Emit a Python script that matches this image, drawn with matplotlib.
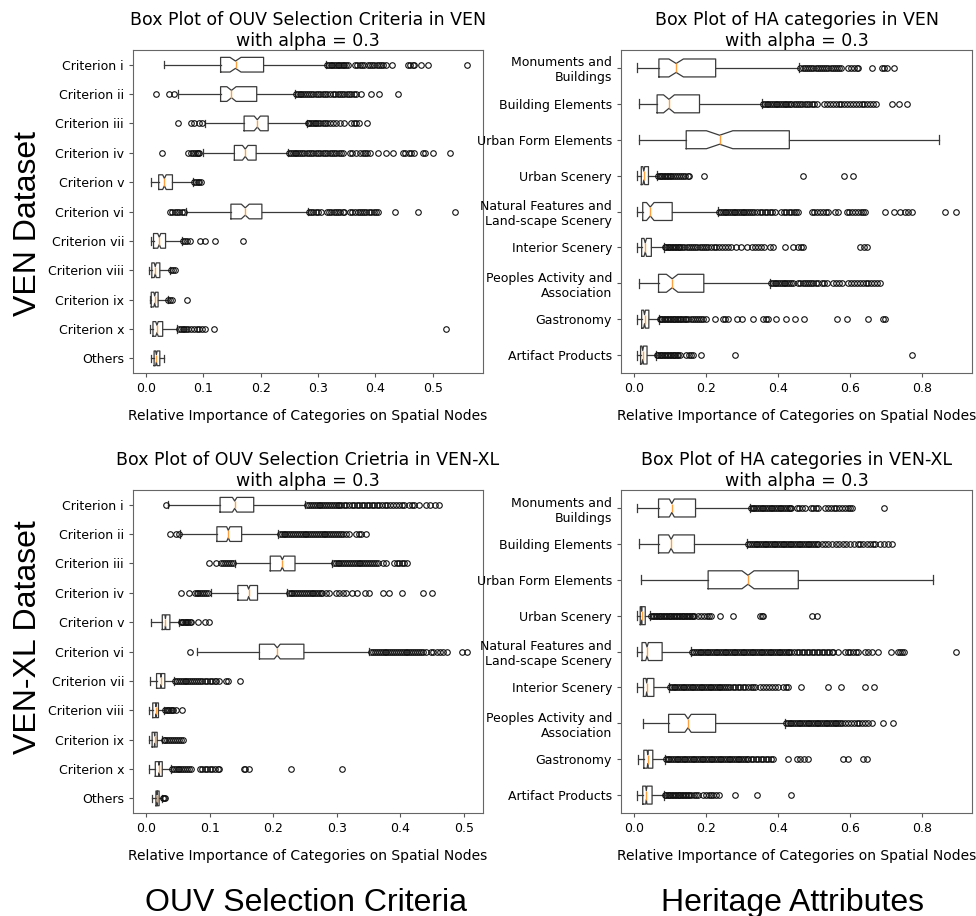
import numpy as np
import matplotlib.pyplot as plt

ouv_labels = ["Criterion i", "Criterion ii", "Criterion iii", "Criterion iv",
              "Criterion v", "Criterion vi", "Criterion vii", "Criterion viii",
              "Criterion ix", "Criterion x", "Others"]
ha_labels = ["Monuments and\nBuildings", "Building Elements", "Urban Form Elements",
             "Urban Scenery", "Natural Features and\nLand-scape Scenery",
             "Interior Scenery", "Peoples Activity and\nAssociation",
             "Gastronomy", "Artifact Products"]

# number of spatial nodes (used for the notch width)
n_ven = 151
n_venxl = 550

# ---- VEN, OUV selection criteria ----
ven_ouv_whislo = [0.032, 0.056, 0.103, 0.099, 0.009, 0.0695, 0.008, 0.005, 0.006, 0.006, 0.009]
ven_ouv_q1 = [0.130, 0.130, 0.171, 0.154, 0.022, 0.148, 0.013, 0.010, 0.009, 0.012, 0.014]
ven_ouv_med = [0.156, 0.149, 0.194, 0.173, 0.032, 0.173, 0.023, 0.016, 0.015, 0.019, 0.018]
ven_ouv_q3 = [0.205, 0.193, 0.213, 0.192, 0.046, 0.202, 0.034, 0.024, 0.021, 0.029, 0.024]
ven_ouv_whishi = [0.313, 0.260, 0.280, 0.248, 0.081, 0.282, 0.063, 0.042, 0.038, 0.054, 0.031]
ven_ouv_fliers = [
    [0.316, 0.319, 0.322, 0.325, 0.328, 0.331, 0.334, 0.337, 0.340, 0.343, 0.346, 0.349, 0.352,
     0.364, 0.368, 0.373, 0.377, 0.381, 0.387, 0.391, 0.394, 0.398, 0.402, 0.406, 0.410, 0.413,
     0.418, 0.429, 0.457, 0.461, 0.465, 0.468, 0.480, 0.492, 0.560],
    [0.017, 0.040, 0.048, 0.262, 0.265, 0.268, 0.271, 0.274, 0.277, 0.280, 0.284, 0.288, 0.292,
     0.296, 0.300, 0.304, 0.308, 0.312, 0.316, 0.320, 0.326, 0.330, 0.334, 0.338, 0.342, 0.346,
     0.350, 0.354, 0.358, 0.362, 0.366, 0.375, 0.393, 0.407, 0.439],
    [0.056, 0.078, 0.084, 0.093, 0.097, 0.282, 0.285, 0.288, 0.291, 0.294, 0.297, 0.300, 0.304,
     0.308, 0.312, 0.316, 0.320, 0.326, 0.332, 0.338, 0.346, 0.358, 0.362, 0.366, 0.372, 0.385],
    [0.027, 0.074, 0.078, 0.082, 0.085, 0.088, 0.091, 0.093, 0.250, 0.253, 0.256, 0.259, 0.262,
     0.265, 0.268, 0.272, 0.276, 0.280, 0.284, 0.288, 0.292, 0.296, 0.300, 0.304, 0.308, 0.312,
     0.316, 0.320, 0.324, 0.328, 0.332, 0.336, 0.340, 0.344, 0.355, 0.360, 0.367, 0.373, 0.378,
     0.382, 0.386, 0.390, 0.404, 0.419, 0.430, 0.448, 0.452, 0.458, 0.462, 0.468, 0.483, 0.487,
     0.501, 0.530],
    [0.084, 0.087, 0.090, 0.093, 0.096],
    [0.042, 0.046, 0.050, 0.054, 0.058, 0.062, 0.066, 0.284, 0.288, 0.292, 0.296, 0.300, 0.305,
     0.315, 0.319, 0.323, 0.327, 0.331, 0.335, 0.339, 0.343, 0.346, 0.355, 0.360, 0.365, 0.370,
     0.373, 0.376, 0.380, 0.384, 0.388, 0.392, 0.397, 0.401, 0.404, 0.435, 0.475, 0.539],
    [0.065, 0.068, 0.071, 0.077, 0.094, 0.103, 0.120, 0.169],
    [0.044, 0.047, 0.050],
    [0.039, 0.042, 0.045, 0.072],
    [0.057, 0.061, 0.064, 0.067, 0.070, 0.074, 0.079, 0.083, 0.088, 0.093, 0.098, 0.103, 0.119, 0.524],
    [],
]

# ---- VEN, HA categories ----
ven_ha_whislo = [0.007, 0.012, 0.014, 0.007, 0.007, 0.007, 0.014, 0.007, 0.007]
ven_ha_q1 = [0.068, 0.063, 0.144, 0.019, 0.023, 0.020, 0.067, 0.020, 0.017]
ven_ha_med = [0.116, 0.096, 0.237, 0.026, 0.044, 0.030, 0.105, 0.028, 0.023]
ven_ha_q3 = [0.226, 0.181, 0.431, 0.039, 0.105, 0.047, 0.193, 0.040, 0.035]
ven_ha_whishi = [0.459, 0.355, 0.847, 0.063, 0.233, 0.081, 0.377, 0.067, 0.059]
ven_ha_fliers = [
    [0.462, 0.468, 0.474, 0.480, 0.486, 0.492, 0.498, 0.504, 0.510, 0.516, 0.522, 0.528, 0.534,
     0.540, 0.546, 0.552, 0.558, 0.564, 0.570, 0.576, 0.595, 0.603, 0.610, 0.618, 0.623, 0.660,
     0.688, 0.695, 0.702, 0.721],
    [0.358, 0.363, 0.368, 0.373, 0.378, 0.383, 0.388, 0.393, 0.398, 0.403, 0.408, 0.413, 0.418,
     0.423, 0.428, 0.433, 0.437, 0.443, 0.449, 0.455, 0.461, 0.467, 0.474, 0.479, 0.486, 0.493,
     0.500, 0.507, 0.528, 0.536, 0.544, 0.552, 0.560, 0.568, 0.576, 0.584, 0.592, 0.600, 0.608,
     0.616, 0.624, 0.632, 0.640, 0.648, 0.656, 0.664, 0.672, 0.716, 0.737, 0.758],
    [],
    [0.066, 0.070, 0.074, 0.078, 0.082, 0.086, 0.090, 0.094, 0.098, 0.102, 0.106, 0.112, 0.118,
     0.124, 0.130, 0.136, 0.142, 0.148, 0.153, 0.193, 0.468, 0.583, 0.609],
    [0.236, 0.241, 0.246, 0.251, 0.256, 0.261, 0.266, 0.271, 0.276, 0.281, 0.286, 0.291, 0.296,
     0.301, 0.306, 0.311, 0.316, 0.321, 0.327, 0.334, 0.341, 0.348, 0.355, 0.362, 0.369, 0.376,
     0.383, 0.391, 0.409, 0.416, 0.423, 0.430, 0.437, 0.444, 0.450, 0.456, 0.493, 0.500, 0.508,
     0.516, 0.524, 0.532, 0.540, 0.558, 0.567, 0.591, 0.598, 0.606, 0.614, 0.622, 0.630, 0.637,
     0.642, 0.698, 0.721, 0.740, 0.752, 0.762, 0.772, 0.863, 0.895],
    [0.084, 0.088, 0.092, 0.096, 0.100, 0.104, 0.108, 0.112, 0.116, 0.120, 0.124, 0.128, 0.133,
     0.139, 0.145, 0.151, 0.157, 0.163, 0.169, 0.175, 0.181, 0.187, 0.193, 0.200, 0.205, 0.212,
     0.220, 0.228, 0.236, 0.244, 0.252, 0.260, 0.270, 0.283, 0.297, 0.312, 0.326, 0.335, 0.344,
     0.352, 0.360, 0.377, 0.386, 0.419, 0.442, 0.456, 0.463, 0.470, 0.628, 0.638, 0.647],
    [0.380, 0.385, 0.390, 0.395, 0.400, 0.405, 0.410, 0.415, 0.420, 0.425, 0.430, 0.436, 0.442,
     0.456, 0.462, 0.468, 0.474, 0.480, 0.486, 0.492, 0.498, 0.505, 0.512, 0.521, 0.528, 0.535,
     0.553, 0.561, 0.569, 0.577, 0.595, 0.603, 0.611, 0.619, 0.627, 0.635, 0.643, 0.651, 0.659,
     0.667, 0.675, 0.684],
    [0.070, 0.074, 0.078, 0.082, 0.086, 0.090, 0.094, 0.098, 0.102, 0.106, 0.110, 0.114, 0.118,
     0.122, 0.126, 0.130, 0.135, 0.140, 0.144, 0.150, 0.156, 0.162, 0.168, 0.174, 0.180, 0.186,
     0.192, 0.200, 0.225, 0.247, 0.253, 0.260, 0.284, 0.300, 0.330, 0.358, 0.365, 0.372, 0.395,
     0.423, 0.447, 0.472, 0.563, 0.591, 0.651, 0.693, 0.698],
    [0.062, 0.066, 0.070, 0.074, 0.078, 0.082, 0.086, 0.090, 0.094, 0.098, 0.102, 0.106, 0.110,
     0.114, 0.118, 0.122, 0.126, 0.144, 0.152, 0.158, 0.163, 0.184, 0.281, 0.772],
]

# ---- VEN-XL, OUV selection criteria ----
venxl_ouv_whislo = [0.034, 0.053, 0.139, 0.101, 0.008, 0.079, 0.006, 0.004, 0.004, 0.004, 0.009]
venxl_ouv_q1 = [0.116, 0.111, 0.195, 0.144, 0.025, 0.178, 0.016, 0.010, 0.009, 0.014, 0.015]
venxl_ouv_med = [0.139, 0.129, 0.214, 0.161, 0.030, 0.206, 0.023, 0.015, 0.013, 0.020, 0.017]
venxl_ouv_q3 = [0.169, 0.150, 0.234, 0.175, 0.037, 0.248, 0.029, 0.019, 0.017, 0.025, 0.020]
venxl_ouv_whishi = [0.250, 0.207, 0.292, 0.221, 0.052, 0.351, 0.043, 0.028, 0.025, 0.038, 0.024]
venxl_ouv_fliers = [
    [0.031, 0.253, 0.256, 0.259, 0.262, 0.265, 0.268, 0.271, 0.274, 0.277, 0.280, 0.283, 0.286,
     0.289, 0.292, 0.295, 0.298, 0.301, 0.304, 0.307, 0.311, 0.315, 0.319, 0.323, 0.327, 0.331,
     0.335, 0.339, 0.343, 0.347, 0.351, 0.355, 0.359, 0.363, 0.367, 0.371, 0.375, 0.379, 0.383,
     0.388, 0.393, 0.398, 0.402, 0.406, 0.414, 0.418, 0.422, 0.429, 0.440, 0.446, 0.454, 0.461],
    [0.037, 0.047, 0.051, 0.210, 0.213, 0.216, 0.219, 0.222, 0.225, 0.228, 0.231, 0.234, 0.237,
     0.240, 0.243, 0.246, 0.249, 0.252, 0.255, 0.258, 0.261, 0.264, 0.267, 0.270, 0.273, 0.276,
     0.279, 0.282, 0.285, 0.288, 0.291, 0.294, 0.297, 0.300, 0.303, 0.306, 0.309, 0.314, 0.319,
     0.330, 0.334, 0.338, 0.346],
    [0.098, 0.109, 0.118, 0.121, 0.124, 0.127, 0.130, 0.133, 0.136, 0.295, 0.298, 0.301, 0.304,
     0.307, 0.310, 0.313, 0.316, 0.319, 0.322, 0.325, 0.328, 0.331, 0.334, 0.337, 0.340, 0.343,
     0.346, 0.349, 0.352, 0.355, 0.358, 0.361, 0.364, 0.372, 0.377, 0.390, 0.394, 0.398, 0.402,
     0.406, 0.411],
    [0.054, 0.067, 0.076, 0.079, 0.082, 0.085, 0.088, 0.091, 0.094, 0.097, 0.224, 0.227, 0.230,
     0.233, 0.236, 0.239, 0.242, 0.245, 0.248, 0.251, 0.254, 0.257, 0.260, 0.263, 0.266, 0.269,
     0.272, 0.275, 0.277, 0.283, 0.288, 0.298, 0.303, 0.309, 0.314, 0.324, 0.332, 0.344, 0.351,
     0.373, 0.382, 0.402, 0.435, 0.450],
    [0.054, 0.056, 0.058, 0.060, 0.062, 0.064, 0.066, 0.068, 0.071, 0.081, 0.092, 0.098],
    [0.068, 0.354, 0.357, 0.360, 0.363, 0.366, 0.369, 0.372, 0.375, 0.378, 0.381, 0.384, 0.387,
     0.390, 0.393, 0.396, 0.399, 0.402, 0.405, 0.408, 0.411, 0.414, 0.417, 0.420, 0.423, 0.426,
     0.429, 0.432, 0.436, 0.440, 0.448, 0.452, 0.457, 0.462, 0.467, 0.474, 0.497, 0.505],
    [0.045, 0.048, 0.051, 0.054, 0.057, 0.060, 0.063, 0.066, 0.069, 0.072, 0.075, 0.078, 0.081,
     0.084, 0.088, 0.092, 0.096, 0.100, 0.104, 0.108, 0.110, 0.114, 0.126, 0.128, 0.147],
    [0.030, 0.032, 0.034, 0.036, 0.038, 0.040, 0.042, 0.047, 0.056],
    [0.027, 0.030, 0.033, 0.036, 0.039, 0.042, 0.045, 0.048, 0.051, 0.054, 0.058],
    [0.040, 0.043, 0.046, 0.049, 0.052, 0.055, 0.058, 0.061, 0.064, 0.067, 0.071, 0.084, 0.088,
     0.092, 0.096, 0.100, 0.104, 0.108, 0.112, 0.115, 0.153, 0.156, 0.161, 0.228, 0.308],
    [0.026, 0.028, 0.030],
]

# ---- VEN-XL, HA categories ----
venxl_ha_whislo = [0.007, 0.014, 0.017, 0.007, 0.007, 0.007, 0.023, 0.011, 0.007]
venxl_ha_q1 = [0.067, 0.067, 0.205, 0.016, 0.021, 0.025, 0.095, 0.026, 0.023]
venxl_ha_med = [0.104, 0.102, 0.316, 0.020, 0.035, 0.034, 0.149, 0.037, 0.033]
venxl_ha_q3 = [0.170, 0.167, 0.456, 0.030, 0.077, 0.054, 0.226, 0.051, 0.049]
venxl_ha_whishi = [0.321, 0.314, 0.830, 0.044, 0.158, 0.096, 0.419, 0.084, 0.081]
venxl_ha_fliers = [
    [0.324, 0.329, 0.334, 0.339, 0.344, 0.349, 0.354, 0.359, 0.364, 0.369, 0.374, 0.379, 0.384,
     0.389, 0.394, 0.399, 0.404, 0.409, 0.414, 0.419, 0.424, 0.429, 0.434, 0.437, 0.451, 0.459,
     0.467, 0.475, 0.490, 0.498, 0.506, 0.512, 0.530, 0.538, 0.546, 0.554, 0.562, 0.570, 0.578,
     0.586, 0.594, 0.600, 0.605, 0.695],
    [0.317, 0.322, 0.327, 0.332, 0.337, 0.342, 0.347, 0.352, 0.357, 0.362, 0.367, 0.372, 0.377,
     0.382, 0.387, 0.392, 0.397, 0.402, 0.407, 0.412, 0.417, 0.422, 0.427, 0.432, 0.437, 0.442,
     0.447, 0.452, 0.457, 0.462, 0.467, 0.472, 0.477, 0.482, 0.487, 0.492, 0.497, 0.502, 0.507,
     0.512, 0.521, 0.530, 0.540, 0.550, 0.560, 0.570, 0.580, 0.590, 0.600, 0.610, 0.623, 0.628,
     0.637, 0.646, 0.655, 0.664, 0.670, 0.684, 0.694, 0.705, 0.716],
    [],
    [0.047, 0.051, 0.055, 0.059, 0.063, 0.067, 0.071, 0.075, 0.079, 0.083, 0.087, 0.091, 0.095,
     0.099, 0.103, 0.107, 0.111, 0.115, 0.119, 0.123, 0.127, 0.131, 0.135, 0.139, 0.143, 0.147,
     0.151, 0.155, 0.159, 0.163, 0.167, 0.177, 0.185, 0.193, 0.201, 0.208, 0.214, 0.239, 0.273,
     0.349, 0.354, 0.358, 0.493, 0.507],
    [0.161, 0.166, 0.171, 0.176, 0.181, 0.186, 0.191, 0.196, 0.201, 0.206, 0.211, 0.216, 0.221,
     0.226, 0.231, 0.236, 0.241, 0.246, 0.251, 0.256, 0.261, 0.266, 0.271, 0.276, 0.281, 0.286,
     0.291, 0.296, 0.301, 0.306, 0.311, 0.316, 0.321, 0.326, 0.331, 0.336, 0.341, 0.346, 0.351,
     0.356, 0.361, 0.366, 0.371, 0.376, 0.381, 0.386, 0.391, 0.396, 0.401, 0.406, 0.411, 0.416,
     0.421, 0.426, 0.431, 0.437, 0.444, 0.451, 0.458, 0.465, 0.472, 0.479, 0.486, 0.493, 0.500,
     0.507, 0.514, 0.521, 0.528, 0.535, 0.542, 0.549, 0.553, 0.567, 0.586, 0.593, 0.600, 0.608,
     0.616, 0.623, 0.642, 0.651, 0.660, 0.679, 0.714, 0.733, 0.739, 0.744, 0.749, 0.895],
    [0.099, 0.104, 0.109, 0.114, 0.119, 0.124, 0.129, 0.134, 0.139, 0.144, 0.149, 0.154, 0.159,
     0.164, 0.169, 0.174, 0.179, 0.184, 0.189, 0.194, 0.199, 0.204, 0.209, 0.214, 0.219, 0.224,
     0.229, 0.234, 0.239, 0.244, 0.249, 0.254, 0.260, 0.267, 0.274, 0.281, 0.288, 0.295, 0.302,
     0.309, 0.316, 0.323, 0.330, 0.335, 0.349, 0.357, 0.366, 0.375, 0.384, 0.392, 0.400, 0.414,
     0.421, 0.428, 0.463, 0.538, 0.574, 0.642, 0.668],
    [0.422, 0.427, 0.432, 0.437, 0.442, 0.447, 0.452, 0.457, 0.462, 0.467, 0.472, 0.477, 0.482,
     0.487, 0.492, 0.497, 0.502, 0.507, 0.512, 0.517, 0.522, 0.527, 0.532, 0.537, 0.542, 0.547,
     0.552, 0.557, 0.562, 0.567, 0.572, 0.577, 0.586, 0.594, 0.602, 0.610, 0.618, 0.626, 0.634,
     0.642, 0.650, 0.660, 0.693, 0.719],
    [0.087, 0.092, 0.097, 0.102, 0.107, 0.112, 0.117, 0.122, 0.127, 0.132, 0.137, 0.142, 0.147,
     0.152, 0.157, 0.162, 0.167, 0.172, 0.177, 0.182, 0.187, 0.192, 0.197, 0.202, 0.207, 0.212,
     0.217, 0.222, 0.227, 0.232, 0.237, 0.242, 0.247, 0.252, 0.257, 0.262, 0.267, 0.272, 0.277,
     0.282, 0.287, 0.292, 0.297, 0.302, 0.307, 0.312, 0.316, 0.323, 0.330, 0.337, 0.344, 0.351,
     0.358, 0.365, 0.372, 0.379, 0.386, 0.426, 0.451, 0.462, 0.473, 0.484, 0.581, 0.593, 0.637,
     0.647],
    [0.084, 0.088, 0.092, 0.096, 0.100, 0.104, 0.108, 0.112, 0.116, 0.120, 0.124, 0.128, 0.132,
     0.136, 0.140, 0.144, 0.148, 0.153, 0.158, 0.165, 0.172, 0.177, 0.191, 0.199, 0.207, 0.214,
     0.219, 0.227, 0.235, 0.279, 0.340, 0.435],
]


def make_stats(labels, whislo, q1, med, q3, whishi, fliers, n):
    stats = []
    for i, lab in enumerate(labels):
        half = 1.57 * (q3[i] - q1[i]) / np.sqrt(n)
        stats.append(dict(label=lab, whislo=whislo[i], q1=q1[i], med=med[i],
                          q3=q3[i], whishi=whishi[i], fliers=np.array(fliers[i]),
                          cilo=med[i] - half, cihi=med[i] + half))
    return stats


def draw_panel(ax, stats, title, xticks):
    pos = np.arange(len(stats), 0, -1)
    line = dict(color="#3a3a3a", linewidth=0.9)
    ax.bxp(stats, positions=pos, orientation="horizontal", shownotches=True,
           widths=0.5, boxprops=line, whiskerprops=line, capprops=line,
           medianprops=dict(color="#ff9f40", linewidth=1.0),
           flierprops=dict(marker="o", markerfacecolor="none",
                           markeredgecolor="#111111", markersize=4.0,
                           markeredgewidth=0.8))
    ax.set_ylim(0.5, len(stats) + 0.5)
    ax.set_xticks(xticks)
    ax.tick_params(labelsize=9, length=3, color="#555555")
    for sp in ax.spines.values():
        sp.set_color("#666666")
    ax.set_title(title, fontsize=12.5, pad=3)
    ax.set_xlabel("Relative Importance of Categories on Spatial Nodes",
                  fontsize=10, labelpad=10)


fig = plt.figure(figsize=(9.76, 9.16), dpi=100)
ax_tl = fig.add_axes([0.1363, 0.5928, 0.3586, 0.3526])
ax_tr = fig.add_axes([0.6363, 0.5928, 0.3596, 0.3526])
ax_bl = fig.add_axes([0.1363, 0.1124, 0.3586, 0.3526])
ax_br = fig.add_axes([0.6363, 0.1124, 0.3596, 0.3526])

ouv_ticks = [0.0, 0.1, 0.2, 0.3, 0.4, 0.5]
ha_ticks = [0.0, 0.2, 0.4, 0.6, 0.8]

draw_panel(ax_tl, make_stats(ouv_labels, ven_ouv_whislo, ven_ouv_q1, ven_ouv_med,
                             ven_ouv_q3, ven_ouv_whishi, ven_ouv_fliers, n_ven),
           "Box Plot of OUV Selection Criteria in VEN\nwith alpha = 0.3", ouv_ticks)
draw_panel(ax_tr, make_stats(ha_labels, ven_ha_whislo, ven_ha_q1, ven_ha_med,
                             ven_ha_q3, ven_ha_whishi, ven_ha_fliers, n_ven),
           "Box Plot of HA categories in VEN\nwith alpha = 0.3", ha_ticks)
draw_panel(ax_bl, make_stats(ouv_labels, venxl_ouv_whislo, venxl_ouv_q1, venxl_ouv_med,
                             venxl_ouv_q3, venxl_ouv_whishi, venxl_ouv_fliers, n_venxl),
           "Box Plot of OUV Selection Crietria in VEN-XL\nwith alpha = 0.3", ouv_ticks)
draw_panel(ax_br, make_stats(ha_labels, venxl_ha_whislo, venxl_ha_q1, venxl_ha_med,
                             venxl_ha_q3, venxl_ha_whishi, venxl_ha_fliers, n_venxl),
           "Box Plot of HA categories in VEN-XL\nwith alpha = 0.3", ha_ticks)

big = dict(family="Liberation Sans", fontsize=23, ha="center", va="center")
fig.text(0.0287, 1 - 224 / 916, "VEN Dataset", rotation=90, **big)
fig.text(0.0287, 1 - 637 / 916, "VEN-XL Dataset", rotation=90, **big)
fig.text(0.314, 0.006, "OUV Selection Criteria", family="Liberation Sans",
         fontsize=23, ha="center", va="baseline")
fig.text(0.8115, 0.006, "Heritage Attributes", family="Liberation Sans",
         fontsize=23, ha="center", va="baseline")

fig.savefig("out.png", dpi=100)
